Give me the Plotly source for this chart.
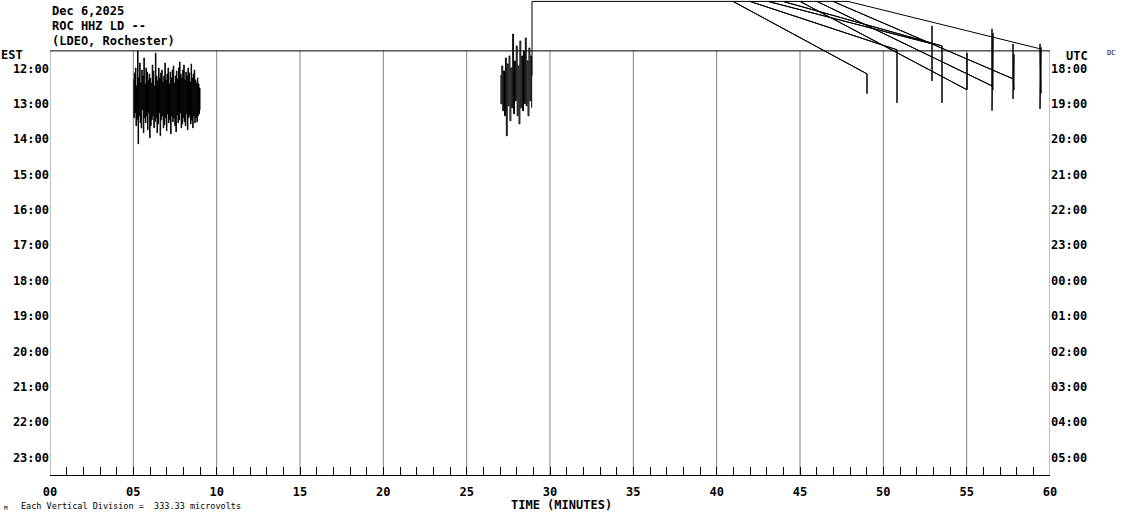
import plotly.graph_objects as go

# header text
title_lines = ["Dec 6,2025", "ROC HHZ LD --", "(LDEO, Rochester)"]

# row labels (one row per hour)
row_hours = list(range(12, 24))
est_labels = [f"{h:02d}:00" for h in row_hours]
utc_labels = ["18:00", "19:00", "20:00", "21:00", "22:00", "23:00",
              "00:00", "01:00", "02:00", "03:00", "04:00", "05:00"]

minute_ticks = list(range(0, 61, 5))
minute_labels = [f"{m:02d}" for m in minute_ticks]

# first burst (row 12:00), amplitude in screen units, + is up
burst1_start, burst1_end, burst1_base = 5.0, 9.0, 12.83
burst1_amp = [18, -20, 25, -15, 30, -28, 12, -22, 47, -46, 20, -18, 35, -25, 15, -30,
              28, -12, 22, -35, 40, -20, 14, -25, 30, -18, 26, -32, 18, -15, 24, -40,
              20, -28, 15, -22, 33, -18, 27, -30, 12, -24, 45, -20, 22, -35, 17, -26,
              30, -15, 20, -38, 25, -22, 28, -18, 16, -30, 22, -27, 35, -20, 18, -33,
              24, -16, 30, -25, 14, -22, 26, -36, 20, -18, 28, -24, 32, -20, 15, -28,
              22, -34, 27, -17, 19, -25, 30, -22, 36, -15, 24, -30, 20, -26, 28, -20,
              33, -24, 18, -28, 26, -16, 22, -32, 30, -20, 25, -18, 16, -26, 34, -22,
              20, -30, 24, -18, 28, -25, 18, -20, 15, -24, 20, -18, 14, -16, 10, -12]

# second burst
burst2_start, burst2_end, burst2_base = 27.0, 28.9, 12.49
burst2_amp = [10, -18, 20, -25, 15, -30, 28, -50, 22, -20, 30, -35, 18, -22, 52, -28,
              25, -15, 40, -30, 20, -38, 45, -22, 30, -25, 35, -18, 48, -20, 25, -30,
              38, -15, 30, -22]

# clipped / wrapped part of the trace (minutes, hours)
glitch_min = [28.92, 28.92, 40.98,
              49.02, 49.02, 49.02, 40.98, 42.00,
              50.82, 50.82, 50.82, 42.00, 43.08,
              52.92, 52.92, 52.92, 52.92, 43.08, 43.98,
              53.52, 53.52, 53.52, 43.98, 45.00,
              55.02, 55.02, 55.02, 45.00, 46.02,
              56.52, 56.52, 56.52, 56.58, 56.58, 56.52, 46.02, 46.98,
              57.78, 57.78, 57.78, 57.84, 57.84, 57.78, 46.98, 47.88,
              59.40, 59.40, 59.40, 59.46, 59.46, 59.40]
glitch_hour = [12.20, 10.10, 10.10,
               12.15, 12.71, 12.15, 10.10, 10.10,
               11.47, 12.97, 11.47, 10.10, 10.10,
               11.30, 10.79, 12.35, 11.30, 10.10, 10.10,
               11.36, 12.97, 11.36, 10.10, 10.10,
               12.60, 11.56, 12.60, 10.10, 10.10,
               12.49, 10.88, 13.19, 11.00, 12.60, 12.49, 10.10, 10.10,
               12.29, 11.30, 12.86, 11.60, 12.60, 12.29, 10.10, 10.10,
               11.44, 11.30, 13.14, 11.40, 12.70, 11.44]

GAIN = 1 / 35.42  # hours per screen unit
TOP = 10.06
FONT = "DejaVu Sans Mono"


def spread(start, end, n):
    step = (end - start) / (n - 1)
    return [start + i * step for i in range(n)]


def burst_trace(start, end, base, amp):
    return go.Scatter(
        x=spread(start, end, len(amp)),
        y=[base - a * GAIN for a in amp],
        mode="lines",
        line=dict(color="black", width=1, shape="hv"),
        hoverinfo="skip",
        showlegend=False,
    )


fig = go.Figure()
fig.add_trace(burst_trace(burst1_start, burst1_end, burst1_base, burst1_amp))
fig.add_trace(burst_trace(burst2_start, burst2_end, burst2_base, burst2_amp))
fig.add_trace(
    go.Scatter(
        x=glitch_min,
        y=glitch_hour,
        mode="lines",
        line=dict(color="black", width=1),
        hoverinfo="skip",
        showlegend=False,
    )
)
# dummy trace for right axis
fig.add_trace(go.Scatter(x=[0], y=[12], yaxis="y2", mode="markers",
                         marker=dict(opacity=0), showlegend=False, hoverinfo="skip"))

# grid every 5 minutes and top border
for m in minute_ticks:
    fig.add_shape(type="line", x0=m, x1=m, y0=11.5, y1=23.5, xref="x", yref="y",
                  line=dict(color="#808080", width=1), layer="below")
fig.add_shape(type="line", x0=0, x1=60, y0=11.5, y1=11.5, xref="x", yref="y",
              line=dict(color="black", width=1), layer="below")

tick_font = dict(family=FONT, size=12, color="black", weight="bold")

fig.update_xaxes(
    range=[0, 60],
    tickvals=minute_ticks,
    ticktext=minute_labels,
    ticks="inside",
    ticklen=8,
    tickcolor="black",
    minor=dict(dtick=1, tick0=0, ticks="inside", ticklen=8, tickcolor="black", showgrid=False),
    showline=True,
    linecolor="black",
    linewidth=1,
    showgrid=False,
    zeroline=False,
    tickfont=tick_font,
    ticklabelstandoff=6,
    automargin=False,
)

yax = dict(
    range=[23.5, TOP],
    tickvals=row_hours,
    showgrid=False,
    zeroline=False,
    showline=False,
    ticks="",
    tickfont=tick_font,
    automargin=False,
)

fig.update_layout(
    width=1130,
    height=519,
    margin=dict(l=50, r=80, t=0, b=44),
    paper_bgcolor="white",
    plot_bgcolor="white",
    yaxis=dict(yax, ticktext=est_labels),
    yaxis2=dict(yax, ticktext=utc_labels, overlaying="y", side="right"),
)


def px_to_paper(px, py):
    return (px - 50) / 1000, (475 - py) / 475


def label(text, px, py, size=12, bold=True, anchor="left"):
    x, y = px_to_paper(px, py)
    fig.add_annotation(
        text=text, x=x, y=y, xref="paper", yref="paper",
        xanchor=anchor, yanchor="middle", showarrow=False,
        font=dict(family=FONT, size=size, color="black", weight="bold" if bold else "normal"),
    )


for i, line in enumerate(title_lines):
    label(line, 50, 11 + 15 * i)
label("EST", -1, 55)
label("UTC", 1064, 56)
label("DC", 1105, 53, size=7, bold=False)
label("TIME (MINUTES)", 561, 505, anchor="center")
label("Each Vertical Division =  333.33 microvolts", 19, 506, size=8.5, bold=False)
label("M", 2, 507, size=6, bold=False)

fig.write_html("out.html", config={"displayModeBar": False},
               post_script="document.body.style.margin='0';")
